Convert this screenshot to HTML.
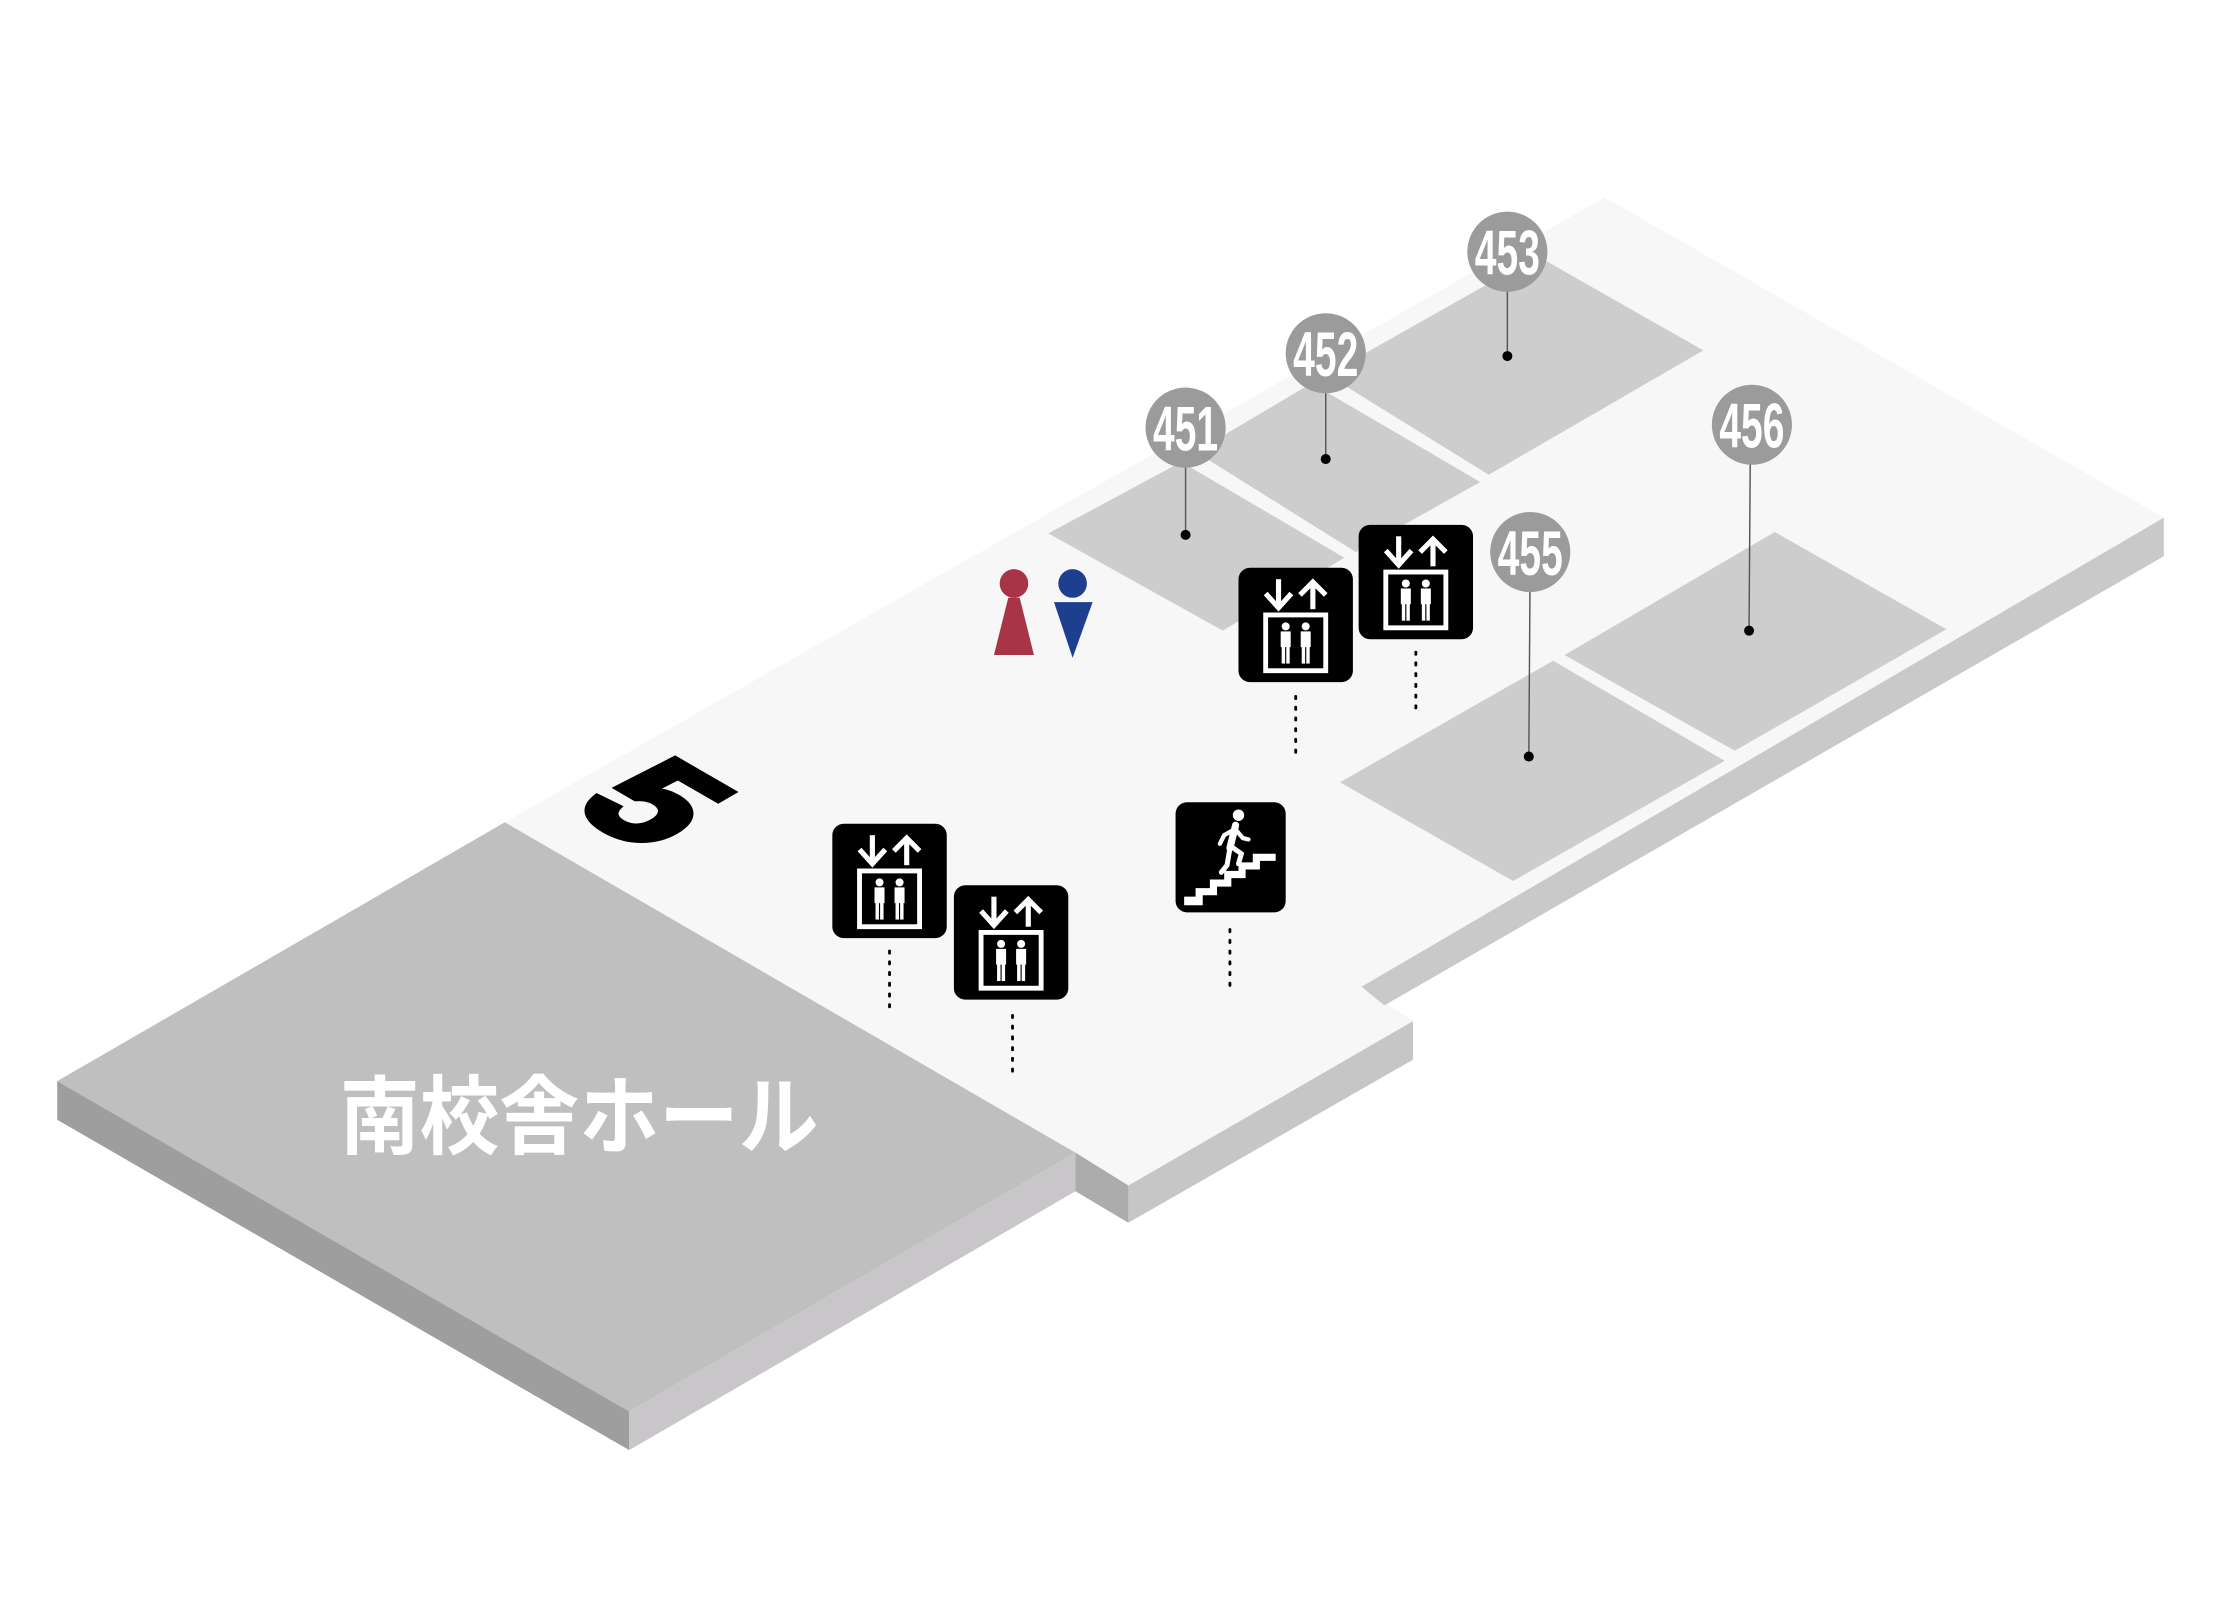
<!DOCTYPE html>
<html><head><meta charset="utf-8"><style>html,body{margin:0;padding:0;background:#fff}svg{display:block}</style></head>
<body>
<svg width="2231" height="1600" viewBox="0 0 1560 1118.8" preserveAspectRatio="none" xmlns="http://www.w3.org/2000/svg">
<defs>
<g id="elev">
<rect x="0" y="0" width="80" height="80" rx="8" fill="#000"/>
<g stroke="#fff" stroke-width="3.6" fill="none">
<line x1="28" y1="8" x2="28" y2="28"/><polyline points="19,18 28,28 37,18"/>
<line x1="52" y1="10" x2="52" y2="29"/><polyline points="43,19 52,10 61,19"/>
<rect x="19" y="33" width="42" height="39" stroke-width="3.4"/>
</g>
<g fill="#fff">
<circle cx="33" cy="41" r="2.8"/><rect x="29.5" y="44.5" width="7" height="11"/><rect x="30.2" y="54" width="2.4" height="13"/><rect x="33.4" y="54" width="2.4" height="13"/>
<circle cx="47" cy="41" r="2.8"/><rect x="43.5" y="44.5" width="7" height="11"/><rect x="44.2" y="54" width="2.4" height="13"/><rect x="47.4" y="54" width="2.4" height="13"/>
</g>
</g>
</defs>
<polygon points="353,575 1122,138 1513,362 952,690 988,714 789,829" fill="#f7f7f7"/>
<polygon points="952,690 1513,362 1513,389 968,703" fill="#c9c9c9"/>
<polygon points="789,829 988,714 988,741 789,855" fill="#c6c6c6"/>
<polygon points="752,806 789,829 789,855 752,833" fill="#acacac"/>
<polygon points="353,575 40,756 440,987 752,806" fill="#bfbfbf"/>
<polygon points="40,756 440,987 440,1014 40,783" fill="#9e9e9e"/>
<polygon points="440,987 752,806 752,833 440,1014" fill="#c8c6c8"/>
<text x="405" y="802" text-anchor="middle" font-family="'Liberation Sans','Noto Sans CJK JP',sans-serif" font-weight="bold" font-size="60" fill="#fff" transform="translate(405 0) scale(0.93 1) translate(-405 0)">南校舎ホール</text>
<g fill="#cdcdcd">
<polygon points="733,373 826,323 940,390 855,441"/>
<polygon points="836,316 917,268 1035,337 948,386"/>
<polygon points="928,262 1075,179 1191,245 1041,332"/>
<polygon points="1094,458 1241,372 1361,440 1213,525"/>
<polygon points="937,547 1086,462 1206,532 1058,616"/>
</g>
<text transform="matrix(0.866,0.5,-0.866,0.5,398,565)" font-family="'Liberation Sans',sans-serif" font-weight="bold" font-size="112" fill="#000" stroke="#000" stroke-width="5">5</text>
<circle cx="709" cy="408" r="10" fill="#a83546"/>
<polygon points="705,418 713,418 723,458 695,458" fill="#a83546"/>
<circle cx="750" cy="408" r="10" fill="#1e3f8f"/>
<polygon points="737,421 764,421 750,460" fill="#1e3f8f"/>
<g stroke="#555" stroke-width="1">
<line x1="829" y1="299" x2="829" y2="374"/><line x1="927" y1="247" x2="927" y2="321"/>
<line x1="1054" y1="176" x2="1054" y2="249"/><line x1="1070" y1="386" x2="1069" y2="529"/>
<line x1="1224" y1="297" x2="1223" y2="441"/>
</g>
<g fill="#000">
<circle cx="829" cy="374" r="3.5"/><circle cx="927" cy="321" r="3.5"/><circle cx="1054" cy="249" r="3.5"/><circle cx="1069" cy="529" r="3.5"/><circle cx="1223" cy="441" r="3.5"/>
</g>
<g fill="#9b9b9b">
<circle cx="829" cy="299" r="28"/><circle cx="927" cy="247" r="28"/><circle cx="1054" cy="176" r="28"/><circle cx="1070" cy="386" r="28"/><circle cx="1225" cy="297" r="28"/>
</g>
<g font-family="'Liberation Sans Narrow','Liberation Sans',sans-serif" font-weight="bold" font-size="44" fill="#fff" text-anchor="middle">
<text x="829" y="315" transform="translate(829 0) scale(0.62 1) translate(-829 0)">451</text>
<text x="927" y="263" transform="translate(927 0) scale(0.62 1) translate(-927 0)">452</text>
<text x="1054" y="192" transform="translate(1054 0) scale(0.62 1) translate(-1054 0)">453</text>
<text x="1070" y="402" transform="translate(1070 0) scale(0.62 1) translate(-1070 0)">455</text>
<text x="1225" y="313" transform="translate(1225 0) scale(0.62 1) translate(-1225 0)">456</text>
</g>
<g stroke="#000" stroke-width="2" stroke-dasharray="1.5 6" stroke-linecap="round">
<line x1="622" y1="665" x2="622" y2="708"/><line x1="708" y1="710" x2="708" y2="752"/>
<line x1="906" y1="487" x2="906" y2="530"/><line x1="990" y1="456" x2="990" y2="500"/>
<line x1="860" y1="650" x2="860" y2="693"/>
</g>
<use href="#elev" x="582" y="576"/>
<use href="#elev" x="667" y="619"/>
<use href="#elev" x="866" y="397"/>
<use href="#elev" x="950" y="367"/>
<rect x="822" y="561" width="77" height="77" rx="8" fill="#000"/>
<polygon points="828,633 828,627 836,627 836,621 846,621 846,615 856,615 856,609 866,609 866,603 876,603 876,597 892,597 892,602 881,602 881,608 871,608 871,614 861,614 861,620 851,620 851,626 841,626 841,633" fill="#fff"/>
<g fill="#fff" stroke="#fff" stroke-linecap="round">
<circle cx="866" cy="570" r="4" stroke="none"/>
<line x1="864" y1="577" x2="860" y2="593" stroke-width="5"/>
<polyline points="860,593 858,605 854,610" fill="none" stroke-width="3.5"/>
<polyline points="861,592 868,597 866,604" fill="none" stroke-width="3.5"/>
<polyline points="863,580 856,584 853,590" fill="none" stroke-width="3"/>
<polyline points="864,580 869,586 873,587" fill="none" stroke-width="3"/>
</g>
</svg>
</body></html>
